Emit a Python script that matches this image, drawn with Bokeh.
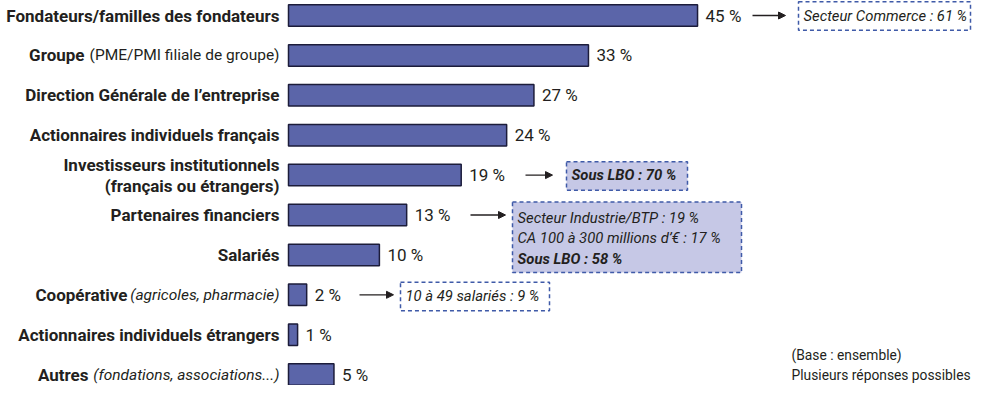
from bokeh.plotting import figure
from bokeh.models import Range1d, ColumnDataSource, BoxAnnotation, Arrow, NormalHead
from bokeh.core.properties import value
from bokeh.embed import file_html
from bokeh.resources import INLINE

# ---------------- data ----------------
categories_main = [
    "Fondateurs/familles des fondateurs",
    "Groupe",
    "Direction Générale de l’entreprise",
    "Actionnaires individuels français",
    "Investisseurs institutionnels\n(français ou étrangers)",
    "Partenaires financiers",
    "Salariés",
    "Coopérative",
    "Actionnaires individuels étrangers",
    "Autres",
]
categories_detail = [
    "", "(PME/PMI filiale de groupe)", "", "", "", "", "",
    "(agricoles, pharmacie)", "", "(fondations, associations...)",
]
values = [45, 33, 27, 24, 19, 13, 10, 2, 1, 5]

callout_rows = [0, 4, 5, 7]
callout_lines = [
    ["Secteur Commerce : 61 %"],
    ["Sous LBO : 70 %"],
    ["Secteur Industrie/BTP : 19 %", "CA 100 à 300 millions d’€ : 17 %", "Sous LBO : 58 %"],
    ["10 à 49 salariés : 9 %"],
]
callout_bold = [[False], [True], [False, False, True], [False]]
note_lines = ["(Base : ensemble)", "Plusieurs réponses possibles"]

# ---------------- layout ----------------
W, H = 974, 385
PX = 9.09      # pixels per percent
X0 = 288       # canvas x of bar origin
ROW = 39.9     # pixels per row
Y0 = 15        # canvas y of first row centre

TXT = "#231f20"
BAR = "#5b65a9"
BOX_LINE = "#3f5aa8"
BOX_FILL = "#c6c8e6"
FONT = value("Roboto")

def dx(xpage):
    return (xpage - 8 - X0) / PX

def ry(ypage):
    # reference page y -> row units
    return (ypage - 21) / 40.67

p = figure(width=W, height=H, output_backend="svg", toolbar_location=None,
           x_range=Range1d(-X0 / PX, (W - X0) / PX),
           y_range=Range1d(-Y0 / ROW + H / ROW, -Y0 / ROW),
           x_axis_location=None, y_axis_location=None,
           min_border=0, outline_line_color=None, background_fill_color="white")
p.grid.visible = False

# bars + value labels
src = ColumnDataSource(dict(
    y=list(range(len(values))), value=values,
    vlabel=[f"{v} %" for v in values],
))
p.hbar(y="y", left=0, right="value", height=0.54, source=src,
       fill_color=BAR, line_color="#1c1c3a", line_width=1.5)
p.text(x="value", y="y", text="vlabel", x_offset=8, source=src,
       text_font=FONT, text_font_size="17px",
       text_align="left", text_baseline="middle", text_color=TXT)

# category labels (bold main part, optional detail part, multi-line split)
detail_w = {"(PME/PMI filiale de groupe)": 190, "(agricoles, pharmacie)": 147,
            "(fondations, associations...)": 186}
m_y, m_txt, m_off, m_yoff = [], [], [], []
d_y, d_txt, d_style = [], [], []
for i, (m, d) in enumerate(zip(categories_main, categories_detail)):
    lines = m.split("\n")
    n = len(lines)
    for k, ln in enumerate(lines):
        m_y.append(i)
        m_txt.append(ln)
        m_off.append(-9 - (detail_w[d] + 5 if d else 0))
        m_yoff.append((k - (n - 1) / 2) * 21)
    if d:
        d_y.append(i)
        d_txt.append(d)
        d_style.append("normal" if d.startswith("(PME") else "italic")

msrc = ColumnDataSource(dict(y=m_y, text=m_txt, xo=m_off, yo=m_yoff))
dsrc = ColumnDataSource(dict(y=d_y, text=d_txt, style=d_style))
p.text(x=0, y="y", text="text", x_offset="xo", y_offset="yo", source=msrc,
       text_font=FONT, text_font_size="17px", text_font_style="bold",
       text_align="right", text_baseline="middle", text_color=TXT)
p.text(x=0, y="y", text="text", x_offset=-9, source=dsrc,
       text_font=FONT, text_font_size="15.5px", text_font_style="style",
       text_align="right", text_baseline="middle", text_color=TXT)

# ---------------- callouts ----------------
box_x = [(806, 978), (574, 695), (520, 749), (408, 557)]
box_y = [(7, 36), (170, 199), (211, 283), (293, 322)]
box_fill = ["white", BOX_FILL, BOX_FILL, "white"]
arrow_x = [(760, 793), (533, 560), (478, 513), (367, 401)]
line_y = [[21], [184], [227, 248, 269], [307]]

for i, r in enumerate(callout_rows):
    (l, rr), (t, b) = box_x[i], box_y[i]
    p.add_layout(BoxAnnotation(left=dx(l), right=dx(rr), top=ry(t), bottom=ry(b),
                               fill_color=box_fill[i], fill_alpha=1.0,
                               line_color=BOX_LINE, line_alpha=1.0,
                               line_width=1.5, line_dash="4 3",
                               level="underlay"))
    ax0, ax1 = arrow_x[i]
    p.add_layout(Arrow(x_start=dx(ax0), x_end=dx(ax1), y_start=r, y_end=r,
                       line_color=TXT, line_width=1.3,
                       end=NormalHead(size=7, fill_color=TXT, line_color=TXT)))
    for txt, bold, ly in zip(callout_lines[i], callout_bold[i], line_y[i]):
        p.text(x=[dx(l + 5)], y=[ry(ly)], text=[txt],
               text_font=FONT, text_font_size="14.8px",
               text_font_style="bold italic" if bold else "italic",
               text_align="left", text_baseline="middle", text_color=TXT)

for txt, ly in zip(note_lines, [367, 387]):
    p.text(x=[dx(799)], y=[ry(ly)], text=[txt], text_font=FONT,
           text_font_size="13.8px", text_align="left", text_baseline="middle",
           text_color=TXT)

open("out.html", "w").write(file_html(p, INLINE))
